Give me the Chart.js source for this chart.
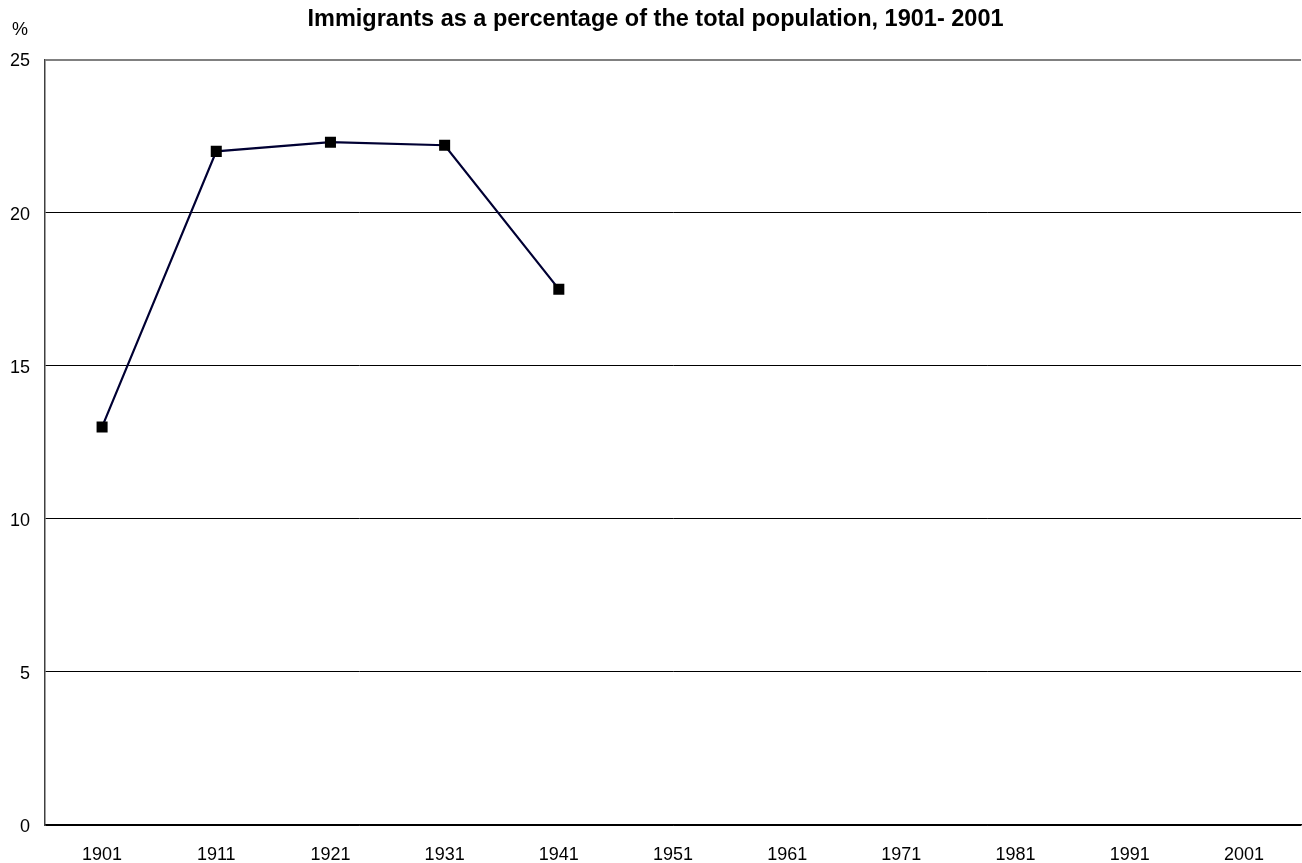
<!DOCTYPE html>
<html>
<head>
    <meta charset="UTF-8">
    <title>Immigrants as a percentage of the total population</title>
    <script src="https://cdn.jsdelivr.net/npm/chart.js"></script>
    <style>
        body { margin: 0; background: #fff; }
    </style>
</head>
<body>
<canvas id="grafico" width="1302" height="863"></canvas>

<script>
    // census years and share of immigrants (%)
    const anos = ['1901', '1911', '1921', '1931', '1941', '1951', '1961', '1971', '1981', '1991', '2001'];
    const percentual = [13.0, 22.0, 22.3, 22.2, 17.5, null, null, null, null, null, null];
    const titulo = 'Immigrants as a percentage of the total population, 1901- 2001';
    const unidade = '%';

    const fonte = "'Liberation Sans', Arial, sans-serif";

    // "%" label above the y axis
    const rotuloUnidade = {
        id: 'rotuloUnidade',
        afterDraw(chart) {
            const ctx = chart.ctx;
            ctx.save();
            ctx.font = `18px ${fonte}`;
            ctx.fillStyle = '#000';
            ctx.textAlign = 'left';
            ctx.textBaseline = 'middle';
            ctx.fillText(unidade, 12, chart.chartArea.top - 29);
            ctx.restore();
        }
    };

    new Chart(document.getElementById('grafico'), {
        type: 'line',
        data: {
            labels: anos,
            datasets: [{
                label: titulo,
                data: percentual,
                borderColor: '#000033',
                borderWidth: 2.2,
                tension: 0,
                pointStyle: 'rect',
                pointRadius: 7.8,
                pointHoverRadius: 7.8,
                pointBackgroundColor: '#000',
                pointBorderColor: '#000',
                pointBorderWidth: 0
            }]
        },
        options: {
            responsive: false,
            animation: false,
            layout: { autoPadding: false, padding: { left: 10, right: 1, top: 0, bottom: 0 } },
            plugins: {
                legend: { display: false },
                tooltip: { enabled: false },
                title: {
                    display: true,
                    text: titulo,
                    color: '#000',
                    font: { family: fonte, size: 23.5, weight: 'bold', lineHeight: 1.2 },
                    padding: { top: 5, bottom: 26.3 }
                }
            },
            scales: {
                x: {
                    offset: true,
                    grid: { display: false, drawTicks: false },
                    border: { display: true, color: '#000', width: 1.5 },
                    ticks: {
                        color: '#000',
                        padding: 19,
                        maxRotation: 0,
                        autoSkip: false,
                        font: { family: fonte, size: 18 }
                    },
                    afterFit: s => { s.height = 38; s.paddingLeft = 0; s.paddingRight = 0; }
                },
                y: {
                    min: 0,
                    max: 25,
                    grid: {
                        drawTicks: false,
                        color: c => c.tick && c.tick.value === 25 ? '#808080' : '#000',
                        lineWidth: c => c.tick && c.tick.value === 25 ? 2 : 1
                    },
                    border: { display: true, color: '#404040', width: 1.5 },
                    ticks: {
                        stepSize: 5,
                        color: '#000',
                        padding: 15,
                        labelOffset: 2,
                        font: { family: fonte, size: 18 }
                    },
                    afterFit: s => { s.width = 35; }
                }
            }
        },
        plugins: [rotuloUnidade]
    });
</script>
</body>
</html>
